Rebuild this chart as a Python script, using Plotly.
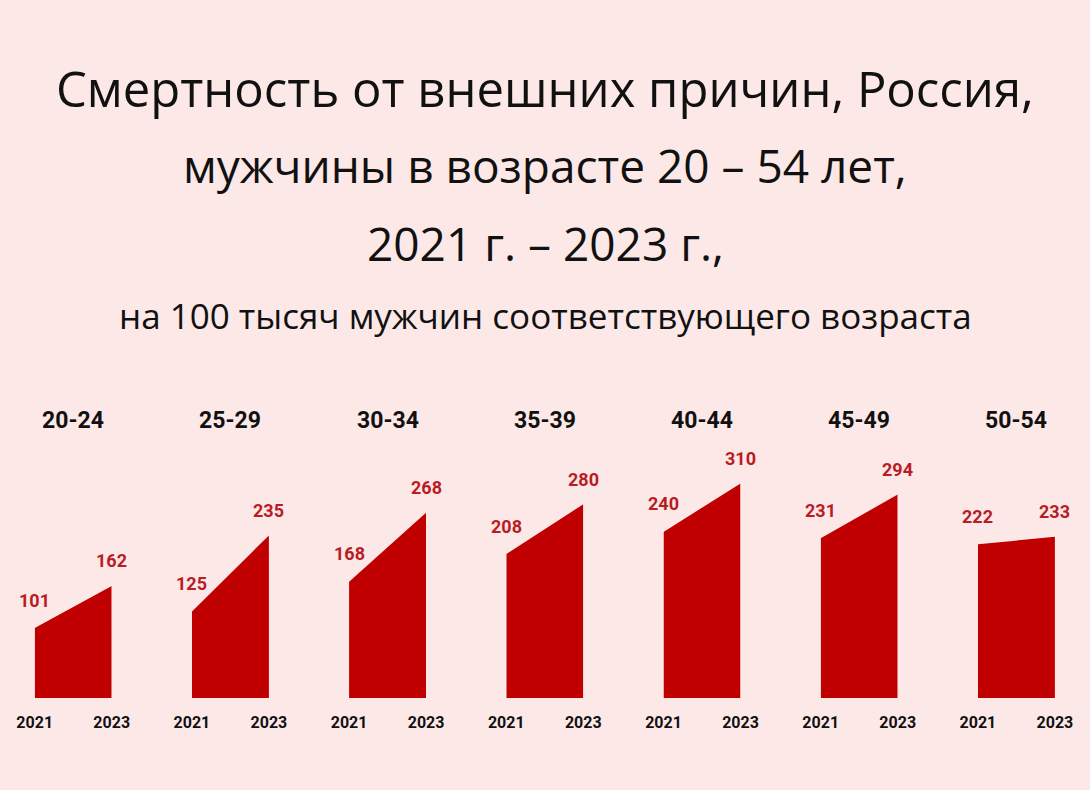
import plotly.graph_objects as go

age_groups = ["20-24", "25-29", "30-34", "35-39", "40-44", "45-49", "50-54"]
years = [2021, 2023]
year_labels = ["2021", "2023"]
values_2021 = [101, 125, 168, 208, 240, 231, 222]
values_2023 = [162, 235, 268, 280, 310, 294, 233]

title_lines = [
    "Смертность от внешних причин, Россия,",
    "мужчины в возрасте 20 – 54 лет,",
    "2021 г. – 2023 г.,",
]
subtitle = "на 100 тысяч мужчин соответствующего возраста"

BG = "#fde8e8"
BAR = "#c00000"
LBL = "#b91c24"
W, H = 1090, 790

fig = go.Figure()
layout = dict(
    width=W, height=H, margin=dict(l=0, r=0, t=0, b=0, autoexpand=False),
    paper_bgcolor=BG, plot_bgcolor=BG, showlegend=False,
)
ydom0 = (H - 698) / H
px_per_unit = 0.692
yrange_top = 698 / px_per_unit
layout["yaxis"] = dict(domain=[ydom0, 1], range=[0, yrange_top], visible=False,
                       fixedrange=True, automargin=False)

annotations = []
for i, g in enumerate(age_groups):
    xa = "x" if i == 0 else f"x{i+1}"
    axkey = "xaxis" if i == 0 else f"xaxis{i+1}"
    left = 34.7 + 157.2 * i
    right = left + 77
    layout[axkey] = dict(
        domain=[left / W, right / W], range=[years[0], years[1]],
        tickvals=years, ticktext=year_labels, showgrid=False, zeroline=False,
        showline=False, ticks="", anchor="y", automargin=False, fixedrange=True,
        tickfont=dict(family="Roboto", size=16, color="#111111", weight="bold"),
        ticklabelstandoff=13,
    )
    v0, v1 = values_2021[i], values_2023[i]
    fig.add_trace(go.Scatter(
        x=[years[0], years[0], years[1], years[1]], y=[0, v0, v1, 0],
        fill="toself", fillcolor=BAR, mode="lines", line=dict(width=0, color=BAR),
        xaxis=xa, yaxis="y", hoverinfo="skip",
    ))
    annotations.append(dict(
        x=years[0], y=v0, xref=xa, yref="y", text=str(v0), showarrow=False,
        yshift=28, yanchor="middle",
        font=dict(family="Roboto", size=18, color=LBL, weight="bold"),
    ))
    annotations.append(dict(
        x=years[1], y=v1, xref=xa, yref="y", text=str(v1), showarrow=False,
        yshift=25, yanchor="middle",
        font=dict(family="Roboto", size=18, color=LBL, weight="bold"),
    ))
    annotations.append(dict(
        x=2022, y=1 - 421 / H, xref=xa, yref="paper", text=g, showarrow=False,
        yanchor="middle",
        font=dict(family="Roboto", size=23, color="#111111", weight="bold"),
    ))

for txt, yc, fs in zip(title_lines, [88, 165, 243], [49, 46, 46]):
    annotations.append(dict(
        x=0.5, y=1 - yc / H, xref="paper", yref="paper", text=txt, showarrow=False,
        yanchor="middle", xanchor="center",
        font=dict(family="Open Sans", size=fs, color="#111111"),
    ))
annotations.append(dict(
    x=0.5, y=1 - 315 / H, xref="paper", yref="paper", text=subtitle, showarrow=False,
    yanchor="middle", xanchor="center",
    font=dict(family="Open Sans", size=35, color="#111111"),
))

layout["annotations"] = annotations
fig.update_layout(**layout)
fig.write_html("out.html")
